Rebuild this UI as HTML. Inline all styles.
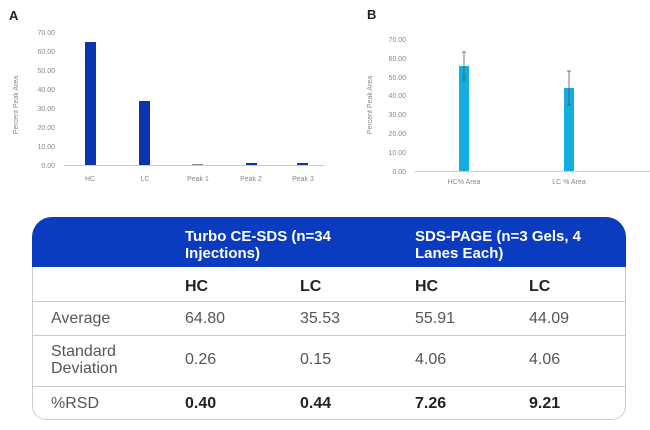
<!DOCTYPE html>
<html><head><style>
body{margin:0;background:#fff;width:650px;height:430px;position:relative;overflow:hidden;font-family:"Liberation Sans",sans-serif}
.t{position:absolute;white-space:nowrap}
</style></head><body>
<svg width="650" height="215" style="position:absolute;left:0;top:0" font-family="Liberation Sans, sans-serif">
<text x="9" y="20" font-size="13" font-weight="bold" fill="#222">A</text>
<g font-size="7" fill="#888" text-anchor="end">
<text x="55" y="35">70.00</text><text x="55" y="54">60.00</text><text x="55" y="73">50.00</text><text x="55" y="92">40.00</text><text x="55" y="111">30.00</text><text x="55" y="130">20.00</text><text x="55" y="149">10.00</text><text x="55" y="168">0.00</text>
</g>
<text transform="translate(18,105) rotate(-90)" font-size="7" fill="#888" text-anchor="middle">Percent Peak Area</text>
<line x1="64" y1="165.5" x2="325" y2="165.5" stroke="#ccc" stroke-width="1"/>
<rect x="85" y="42" width="11" height="123" fill="#0b34b0"/>
<rect x="139" y="101" width="11" height="64" fill="#0b34b0"/>
<rect x="192" y="164" width="11" height="1" fill="#889"/>
<rect x="246" y="163" width="11" height="2" fill="#0b34b0"/>
<rect x="297" y="163" width="11" height="2" fill="#0b34b0"/>
<g font-size="7" fill="#888" text-anchor="middle">
<text x="90" y="181">HC</text><text x="145" y="181">LC</text><text x="198" y="181">Peak 1</text><text x="251" y="181">Peak 2</text><text x="303" y="181">Peak 3</text>
</g>
<text x="367" y="19" font-size="13" font-weight="bold" fill="#222">B</text>
<g font-size="7" fill="#888" text-anchor="end">
<text x="406" y="42">70.00</text><text x="406" y="61">60.00</text><text x="406" y="80">50.00</text><text x="406" y="98">40.00</text><text x="406" y="117">30.00</text><text x="406" y="136">20.00</text><text x="406" y="155">10.00</text><text x="406" y="174">0.00</text>
</g>
<text transform="translate(372,105) rotate(-90)" font-size="7" fill="#888" text-anchor="middle">Percent Peak Area</text>
<line x1="415" y1="171.5" x2="650" y2="171.5" stroke="#ccc"/>
<rect x="459" y="66" width="10" height="105" fill="#12aee0"/>
<rect x="564" y="88" width="10" height="83" fill="#12aee0"/>
<g stroke="#555" stroke-width="0.8">
<line x1="464" y1="52" x2="464" y2="80"/><line x1="462" y1="52" x2="466" y2="52"/><line x1="462" y1="80" x2="466" y2="80"/>
<line x1="569" y1="71" x2="569" y2="105"/><line x1="567" y1="71" x2="571" y2="71"/><line x1="567" y1="105" x2="571" y2="105"/>
</g>
<g font-size="7" fill="#888" text-anchor="middle">
<text x="464" y="184">HC% Area</text><text x="569" y="184">LC % Area</text>
</g>
</svg>
<div style="position:absolute;left:32px;top:217px;width:592px;height:202px;border:1px solid #ccc;border-top:none;border-radius:20px 20px 14px 14px;"></div>
<div style="position:absolute;left:32px;top:217px;width:594px;height:50px;background:#0b3cbf;border-radius:20px 20px 0 0"></div>
<div class="t" style="left:185px;top:228px;color:#fff;font-weight:bold;font-size:15px;line-height:17px">Turbo CE-SDS (n=34<br>Injections)</div>
<div class="t" style="left:415px;top:228px;color:#fff;font-weight:bold;font-size:15px;line-height:17px">SDS-PAGE (n=3 Gels, 4<br>Lanes Each)</div>
<div style="position:absolute;left:33px;top:301px;width:592px;height:1px;background:#ccc"></div>
<div style="position:absolute;left:33px;top:335px;width:592px;height:1px;background:#ccc"></div>
<div style="position:absolute;left:33px;top:386px;width:592px;height:1px;background:#ccc"></div>
<div style="font-size:16px;color:#222;font-weight:bold">
<div class="t" style="left:185px;top:278px">HC</div><div class="t" style="left:300px;top:278px">LC</div><div class="t" style="left:415px;top:278px">HC</div><div class="t" style="left:529px;top:278px">LC</div>
</div>
<div style="font-size:16px;color:#555">
<div class="t" style="left:51px;top:310px">Average</div><div class="t" style="left:185px;top:310px">64.80</div><div class="t" style="left:300px;top:310px">35.53</div><div class="t" style="left:415px;top:310px">55.91</div><div class="t" style="left:529px;top:310px">44.09</div>
<div class="t" style="left:51px;top:343px;line-height:17px">Standard<br>Deviation</div><div class="t" style="left:185px;top:351px">0.26</div><div class="t" style="left:300px;top:351px">0.15</div><div class="t" style="left:415px;top:351px">4.06</div><div class="t" style="left:529px;top:351px">4.06</div>
<div class="t" style="left:51px;top:395px">%RSD</div>
</div>
<div style="font-size:16px;color:#222;font-weight:bold">
<div class="t" style="left:185px;top:395px">0.40</div><div class="t" style="left:300px;top:395px">0.44</div><div class="t" style="left:415px;top:395px">7.26</div><div class="t" style="left:529px;top:395px">9.21</div>
</div>
</body></html>
